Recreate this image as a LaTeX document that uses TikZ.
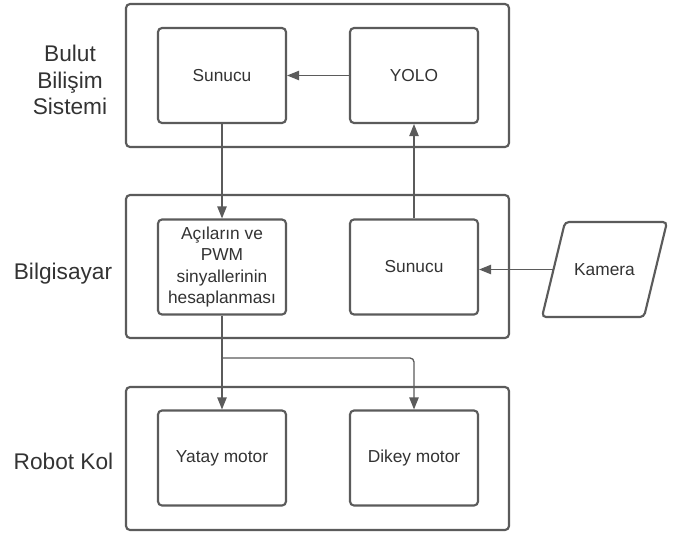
\documentclass[tikz,border=0pt]{standalone}
\usepackage{fontspec}
\setmainfont{Liberation Sans}
\usepackage{tikz}
\usetikzlibrary{arrows.meta}
\definecolor{linegray}{HTML}{5B5B5B}
\definecolor{textgray}{HTML}{333333}

\begin{document}
\begin{tikzpicture}[x=0.75pt,y=-0.75pt,
    layer/.style={draw=linegray, line width=1.6pt, rounded corners=3pt, fill=white,
        minimum width=287.25pt, minimum height=107.25pt},
    unit/.style={draw=linegray, line width=1.6pt, rounded corners=3pt, fill=white,
        minimum width=96pt, minimum height=71.25pt, align=center, text=textgray,
        font=\fontsize{13}{16}\selectfont},
    layername/.style={align=center, text=textgray, font=\fontsize{17}{20}\selectfont},
    conn/.style={draw=linegray, line width=1pt, -{Triangle[length=9pt,width=7pt]}}]
\useasboundingbox (0,0) rectangle (689,533);

% layers
\node[layer] (cloud) at (317.5,75.5) {};
\node[layer] (pc) at (317.5,266.5) {};
\node[layer] (robot) at (317.5,458.5) {};
\node[layername] (cloudname) at (70,80) {Bulut\\Bilişim\\Sistemi};
\node[layername] (pcname) at (63,274) {Bilgisayar};
\node[layername] (robotname) at (63.5,461.5) {Robot Kol};

% units
\node[unit] (cloudsrv) at (222,75.5) {Sunucu};
\node[unit] (yolo) at (414,75.5) {YOLO};
\node[unit] (calc) at (222,267) {Açıların ve\\PWM\\sinyallerinin\\hesaplanması};
\node[unit] (pcsrv) at (414,267) {Sunucu};
\node[unit] (yatay) at (222,458) {Yatay motor};
\node[unit] (dikey) at (414,458) {Dikey motor};

% camera input (parallelogram)
\draw[draw=linegray, line width=1.6pt, rounded corners=3pt, fill=white]
    (542,317) -- (565,222) -- (667,222) -- (644,317) -- cycle;
\node[text=textgray, font=\fontsize{13}{16}\selectfont] (kamera) at (604.5,269.5) {Kamera};
\coordinate (kamleft) at (553.5,269.5);

% connectors
\draw[conn] (yolo.west) -- (cloudsrv.east);
\draw[conn] (cloudsrv.south) -- (calc.north);
\draw[conn] (pcsrv.north) -- (yolo.south);
\draw[conn] (kamleft) -- (kamleft -| pcsrv.east);
\coordinate (split) at (222,358);
\draw[conn] (calc.south) -- (yatay.north);
\draw[conn, rounded corners=3pt] (split) -| (dikey.north);
\end{tikzpicture}
\end{document}
